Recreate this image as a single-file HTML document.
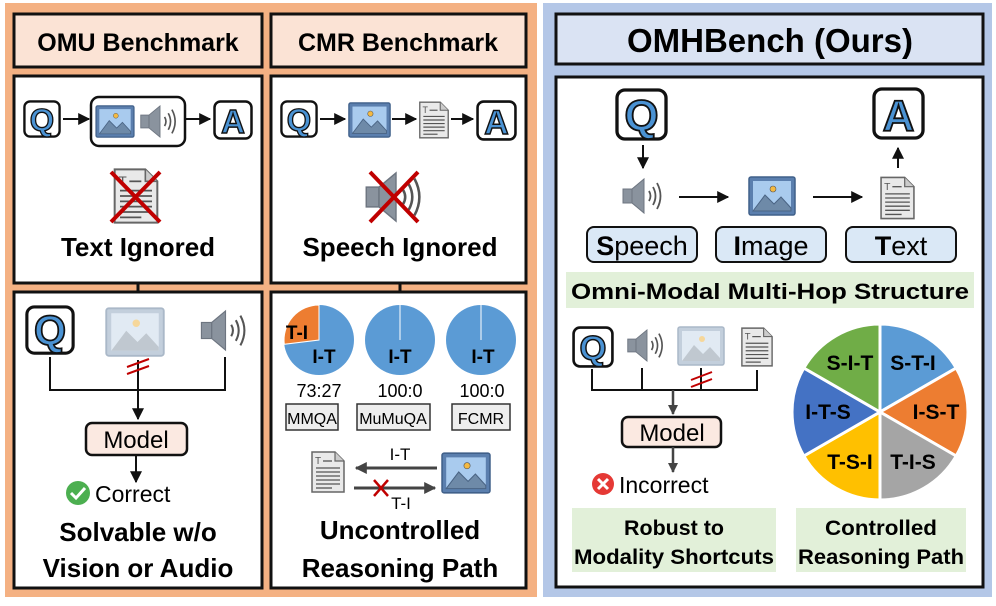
<!DOCTYPE html>
<html><head><meta charset="utf-8"><style>
html,body{margin:0;padding:0;background:#fff;width:996px;height:606px;overflow:hidden}
svg{display:block}
text{font-family:"Liberation Sans","DejaVu Sans",sans-serif}
.b{font-weight:bold}
</style></head><body>
<svg width="996" height="606" viewBox="0 0 996 606" xmlns="http://www.w3.org/2000/svg">
<defs>
  <marker id="ah" viewBox="0 0 10 10" refX="9" refY="5" markerWidth="6" markerHeight="6" orient="auto"><path d="M0,0 L10,5 L0,10 Z" fill="#111"/></marker>
  <marker id="ahg" viewBox="0 0 10 10" refX="9" refY="5" markerWidth="4" markerHeight="4" orient="auto"><path d="M0,0 L10,5 L0,10 Z" fill="#444"/></marker>
  <symbol id="img" viewBox="0 0 48 40">
    <rect x="1" y="1" width="46" height="38" rx="2" fill="#5b7fae" stroke="#40608a" stroke-width="1.5"/>
    <rect x="5" y="5" width="38" height="30" fill="#a9cbee"/>
    <path d="M5,35 L17,19 L26,28 L33,21 L43,32 L43,35 Z" fill="#6e8aa8" stroke="#4a6484" stroke-width="1"/>
    <circle cx="25" cy="13" r="3" fill="#f4b942" stroke="#555" stroke-width="0.6"/>
  </symbol>
  <symbol id="imgf" viewBox="0 0 48 40">
    <rect x="1" y="1" width="46" height="38" rx="2" fill="#c3cfdc" stroke="#aab8c8" stroke-width="1.5"/>
    <rect x="5" y="5" width="38" height="30" fill="#e1eaf3"/>
    <path d="M5,35 L17,19 L26,28 L33,21 L43,32 L43,35 Z" fill="#c0c8d0"/>
    <circle cx="25" cy="13" r="3" fill="#f6d79a"/>
  </symbol>
  <symbol id="spk" viewBox="0 0 48 40">
    <rect x="3" y="13" width="9" height="14" fill="#8a939e" stroke="#6d7580"/>
    <path d="M12,13 L24,3 L24,37 L12,27 Z" fill="#8a939e" stroke="#6d7580"/>
    <path d="M29,15 Q32,20 29,25" fill="none" stroke="#555" stroke-width="1.8"/>
    <path d="M33,11 Q38,20 33,29" fill="none" stroke="#555" stroke-width="1.8"/>
    <path d="M37,7 Q44,20 37,33" fill="none" stroke="#555" stroke-width="1.8"/>
  </symbol>
  <symbol id="doc" viewBox="0 0 36 44">
    <path d="M2,2 L25,2 L34,11 L34,42 L2,42 Z" fill="#e9e9e9" stroke="#666" stroke-width="1.5"/>
    <path d="M25,2 L25,11 L34,11" fill="#ccc" stroke="#666" stroke-width="1.2"/>
    <text x="5" y="14" font-size="10" fill="#555">T</text>
    <g stroke="#555" stroke-width="1.3"><line x1="13" y1="11" x2="22" y2="11"/><line x1="6" y1="18" x2="30" y2="18"/><line x1="6" y1="22" x2="30" y2="22"/><line x1="6" y1="26" x2="30" y2="26"/><line x1="6" y1="30" x2="30" y2="30"/><line x1="6" y1="34" x2="30" y2="34"/><line x1="6" y1="38" x2="22" y2="38"/></g>
  </symbol>
  <symbol id="qb" viewBox="0 0 40 40">
    <rect x="1.5" y="1.5" width="37" height="37" rx="6" fill="#fff" stroke="#111" stroke-width="2.5"/>
    <text x="20" y="32" text-anchor="middle" font-size="33" font-weight="bold" fill="#4a92d3" stroke="#111" stroke-width="1.4">Q</text>
  </symbol>
  <symbol id="ab" viewBox="0 0 40 40">
    <rect x="1.5" y="1.5" width="37" height="37" rx="6" fill="#fff" stroke="#111" stroke-width="2.5"/>
    <text x="20" y="33" text-anchor="middle" font-size="33" font-weight="bold" fill="#4a92d3" stroke="#111" stroke-width="1.4">A</text>
  </symbol>
</defs>

<!-- Left orange panel -->
<rect x="5" y="3" width="532" height="594" fill="#f4b183"/>
<rect x="14" y="14" width="248" height="53" fill="#fbe3d5" stroke="#111" stroke-width="3"/>
<rect x="271" y="14" width="255" height="53" fill="#fbe3d5" stroke="#111" stroke-width="3"/>
<text x="138" y="51" text-anchor="middle" class="b" font-size="25">OMU Benchmark</text>
<text x="398" y="51" text-anchor="middle" class="b" font-size="25">CMR Benchmark</text>
<rect x="14" y="76" width="248" height="207" fill="#fff" stroke="#111" stroke-width="3"/>
<rect x="271" y="76" width="255" height="207" fill="#fff" stroke="#111" stroke-width="3"/>
<rect x="14" y="292" width="248" height="296" fill="#fff" stroke="#111" stroke-width="3"/>
<rect x="271" y="292" width="255" height="296" fill="#fff" stroke="#111" stroke-width="3"/>
<line x1="138" y1="283" x2="138" y2="292" stroke="#111" stroke-width="3"/>
<line x1="400" y1="283" x2="400" y2="292" stroke="#111" stroke-width="3"/>

<!-- OMU top -->
<use href="#qb" x="23" y="100" width="38" height="38"/>
<line x1="63" y1="119" x2="89" y2="119" stroke="#111" stroke-width="2" marker-end="url(#ah)"/>
<rect x="91" y="97" width="94" height="49" rx="8" fill="#fff" stroke="#111" stroke-width="2.5"/>
<use href="#img" x="95" y="105" width="40" height="33"/>
<use href="#spk" x="138" y="103" width="44" height="37"/>
<line x1="185" y1="119" x2="210" y2="119" stroke="#111" stroke-width="2" marker-end="url(#ah)"/>
<use href="#ab" x="213" y="100" width="40" height="40"/>
<use href="#doc" x="112" y="165" width="48" height="62"/>
<g stroke="#c00000" stroke-width="4"><line x1="111" y1="172" x2="160" y2="222"/><line x1="160" y1="172" x2="111" y2="222"/></g>
<text x="138" y="256" text-anchor="middle" class="b" font-size="26">Text Ignored</text>

<!-- CMR top -->
<use href="#qb" x="280" y="100" width="38" height="38"/>
<line x1="320" y1="119" x2="345" y2="119" stroke="#111" stroke-width="2" marker-end="url(#ah)"/>
<use href="#img" x="348" y="102" width="43" height="36"/>
<line x1="392" y1="119" x2="416" y2="119" stroke="#111" stroke-width="2" marker-end="url(#ah)"/>
<use href="#doc" x="418" y="99" width="32" height="42"/>
<line x1="451" y1="119" x2="473" y2="119" stroke="#111" stroke-width="2" marker-end="url(#ah)"/>
<use href="#ab" x="476" y="100" width="41" height="41"/>
<use href="#spk" x="362" y="168" width="68" height="58"/>
<g stroke="#c00000" stroke-width="4"><line x1="370" y1="172" x2="418" y2="222"/><line x1="418" y1="172" x2="370" y2="222"/></g>
<text x="400" y="256" text-anchor="middle" class="b" font-size="26">Speech Ignored</text>

<!-- OMU bottom -->
<use href="#qb" x="25" y="305" width="50" height="50"/>
<use href="#imgf" x="105" y="307" width="60" height="50"/>
<use href="#spk" x="198" y="307" width="55" height="47"/>
<path d="M50,357 L50,390 L225,390 L225,357" fill="none" stroke="#111" stroke-width="2"/>
<line x1="138" y1="360" x2="138" y2="419" stroke="#111" stroke-width="2" marker-end="url(#ah)"/>
<g stroke="#c00000" stroke-width="2"><line x1="127" y1="367" x2="149" y2="359"/><line x1="127" y1="374" x2="149" y2="366"/></g>
<rect x="86" y="423" width="101" height="32" rx="6" fill="#fbe9e1" stroke="#111" stroke-width="2.5"/>
<text x="136" y="448" text-anchor="middle" font-size="24">Model</text>
<line x1="136" y1="455" x2="136" y2="482" stroke="#111" stroke-width="2" marker-end="url(#ah)"/>
<circle cx="78" cy="493" r="12" fill="#4caf50"/>
<path d="M71,493 L76,498 L85,488" fill="none" stroke="#fff" stroke-width="3"/>
<text x="95" y="502" font-size="23">Correct</text>
<text x="138" y="541" text-anchor="middle" class="b" font-size="26">Solvable w/o</text>
<text x="138" y="577" text-anchor="middle" class="b" font-size="26">Vision or Audio</text>

<!-- CMR bottom -->
<circle cx="319" cy="340" r="35" fill="#5b9bd5"/>
<path d="M319,340 L319,305 A35,35 0 0 0 284.3,344.3 Z" fill="#ed7d31" stroke="#fff" stroke-width="1"/>
<text x="297" y="339" text-anchor="middle" class="b" font-size="19">T-I</text>
<text x="324" y="363" text-anchor="middle" class="b" font-size="19">I-T</text>
<circle cx="400" cy="340" r="35" fill="#5b9bd5"/>
<line x1="400" y1="305" x2="400" y2="340" stroke="#fff" stroke-width="1"/>
<text x="400" y="363" text-anchor="middle" class="b" font-size="19">I-T</text>
<circle cx="481" cy="340" r="35" fill="#5b9bd5"/>
<line x1="481" y1="305" x2="481" y2="340" stroke="#fff" stroke-width="1"/>
<text x="483" y="363" text-anchor="middle" class="b" font-size="19">I-T</text>
<text x="319" y="397" text-anchor="middle" font-size="18">73:27</text>
<text x="400" y="397" text-anchor="middle" font-size="18">100:0</text>
<text x="482" y="397" text-anchor="middle" font-size="18">100:0</text>
<rect x="286" y="404" width="52" height="26" fill="#eee" stroke="#333" stroke-width="1.5"/>
<rect x="357" y="404" width="73" height="26" fill="#eee" stroke="#333" stroke-width="1.5"/>
<rect x="452" y="404" width="58" height="26" fill="#eee" stroke="#333" stroke-width="1.5"/>
<text x="312" y="424" text-anchor="middle" font-size="16">MMQA</text>
<text x="393" y="424" text-anchor="middle" font-size="16">MuMuQA</text>
<text x="481" y="424" text-anchor="middle" font-size="16">FCMR</text>
<use href="#doc" x="310" y="450" width="36" height="44"/>
<use href="#img" x="441" y="452" width="50" height="42"/>
<line x1="437" y1="468" x2="356" y2="468" stroke="#444" stroke-width="3" marker-end="url(#ahg)"/>
<line x1="354" y1="488" x2="435" y2="488" stroke="#444" stroke-width="3" marker-end="url(#ahg)"/>
<text x="400" y="460" text-anchor="middle" font-size="17">I-T</text>
<text x="401" y="509" text-anchor="middle" font-size="17">T-I</text>
<g stroke="#c00000" stroke-width="2.5"><line x1="374" y1="480" x2="388" y2="496"/><line x1="388" y1="480" x2="374" y2="496"/></g>
<text x="400" y="539" text-anchor="middle" class="b" font-size="26">Uncontrolled</text>
<text x="400" y="577" text-anchor="middle" class="b" font-size="26">Reasoning Path</text>

<!-- Right blue panel -->
<rect x="543" y="3" width="449" height="594" fill="#b4c7e7"/>
<rect x="556" y="14" width="427" height="50" fill="#dae3f3" stroke="#111" stroke-width="3"/>
<text x="770" y="52" text-anchor="middle" class="b" font-size="33">OMHBench (Ours)</text>
<rect x="556" y="77" width="427" height="510" fill="#fff" stroke="#111" stroke-width="3"/>
<use href="#qb" x="615" y="88" width="53" height="53"/>
<line x1="643" y1="145" x2="643" y2="168" stroke="#111" stroke-width="2" marker-end="url(#ah)"/>
<use href="#ab" x="872" y="87" width="53" height="53"/>
<line x1="898" y1="168" x2="898" y2="148" stroke="#111" stroke-width="2" marker-end="url(#ah)"/>
<use href="#spk" x="620" y="176" width="48" height="40"/>
<line x1="679" y1="197" x2="728" y2="197" stroke="#111" stroke-width="2" marker-end="url(#ah)"/>
<use href="#img" x="748" y="176" width="48" height="40"/>
<line x1="813" y1="197" x2="862" y2="197" stroke="#111" stroke-width="2" marker-end="url(#ah)"/>
<use href="#doc" x="879" y="175" width="37" height="46"/>
<rect x="587" y="227" width="110" height="35" rx="7" fill="#dae8f6" stroke="#111" stroke-width="2"/>
<rect x="716" y="227" width="110" height="35" rx="7" fill="#dae8f6" stroke="#111" stroke-width="2"/>
<rect x="846" y="227" width="110" height="35" rx="7" fill="#dae8f6" stroke="#111" stroke-width="2"/>
<text x="642" y="255" text-anchor="middle" font-size="27"><tspan class="b">S</tspan>peech</text>
<text x="771" y="255" text-anchor="middle" font-size="27"><tspan class="b">I</tspan>mage</text>
<text x="901" y="255" text-anchor="middle" font-size="27"><tspan class="b">T</tspan>ext</text>
<rect x="566" y="272" width="408" height="36" fill="#e2f0d9"/>
<text x="770" y="299" text-anchor="middle" class="b" font-size="22" textLength="398" lengthAdjust="spacingAndGlyphs">Omni-Modal Multi-Hop Structure</text>

<use href="#qb" x="572" y="326" width="42" height="42"/>
<use href="#spk" x="625" y="327" width="44" height="37"/>
<use href="#imgf" x="677" y="326" width="48" height="40"/>
<use href="#doc" x="740" y="326" width="34" height="42"/>
<path d="M592,369 L592,390 L757,390 L757,370" fill="none" stroke="#111" stroke-width="2"/>
<line x1="642" y1="368" x2="642" y2="390" stroke="#111" stroke-width="2"/>
<line x1="701" y1="368" x2="701" y2="390" stroke="#111" stroke-width="2"/>
<g stroke="#c00000" stroke-width="2"><line x1="691" y1="380" x2="712" y2="372"/><line x1="691" y1="387" x2="712" y2="379"/></g>
<line x1="673" y1="390" x2="673" y2="414" stroke="#444" stroke-width="2.5" marker-end="url(#ahg)"/>
<rect x="622" y="417" width="99" height="30" rx="6" fill="#fbe9e1" stroke="#111" stroke-width="2.5"/>
<text x="672" y="441" text-anchor="middle" font-size="24">Model</text>
<line x1="673" y1="447" x2="673" y2="472" stroke="#444" stroke-width="2.5" marker-end="url(#ahg)"/>
<circle cx="603" cy="484" r="11" fill="#e53935"/>
<g stroke="#fff" stroke-width="3"><line x1="598" y1="479" x2="608" y2="489"/><line x1="608" y1="479" x2="598" y2="489"/></g>
<text x="619" y="493" font-size="23">Incorrect</text>

<!-- big pie -->
<g stroke="#fff" stroke-width="3">
<path d="M880,412 L880,324 A88,88 0 0 1 956.2,368 Z" fill="#5b9bd5"/>
<path d="M880,412 L956.2,368 A88,88 0 0 1 956.2,456 Z" fill="#ed7d31"/>
<path d="M880,412 L956.2,456 A88,88 0 0 1 880,500 Z" fill="#a5a5a5"/>
<path d="M880,412 L880,500 A88,88 0 0 1 803.8,456 Z" fill="#ffc000"/>
<path d="M880,412 L803.8,456 A88,88 0 0 1 803.8,368 Z" fill="#4472c4"/>
<path d="M880,412 L803.8,368 A88,88 0 0 1 880,324 Z" fill="#70ad47"/>
</g>
<g class="b" font-size="21" text-anchor="middle">
<text x="850" y="370">S-I-T</text>
<text x="913" y="370">S-T-I</text>
<text x="828" y="419">I-T-S</text>
<text x="936" y="419">I-S-T</text>
<text x="850" y="469">T-S-I</text>
<text x="913" y="469">T-I-S</text>
</g>
<rect x="572" y="508" width="204" height="64" fill="#e2f0d9"/>
<rect x="796" y="508" width="170" height="64" fill="#e2f0d9"/>
<text x="674" y="535" text-anchor="middle" class="b" font-size="21" textLength="100" lengthAdjust="spacingAndGlyphs">Robust to</text>
<text x="674" y="564" text-anchor="middle" class="b" font-size="21" textLength="200" lengthAdjust="spacingAndGlyphs">Modality Shortcuts</text>
<text x="881" y="535" text-anchor="middle" class="b" font-size="21" textLength="112" lengthAdjust="spacingAndGlyphs">Controlled</text>
<text x="881" y="564" text-anchor="middle" class="b" font-size="21" textLength="166" lengthAdjust="spacingAndGlyphs">Reasoning Path</text>
</svg>
</body></html>
